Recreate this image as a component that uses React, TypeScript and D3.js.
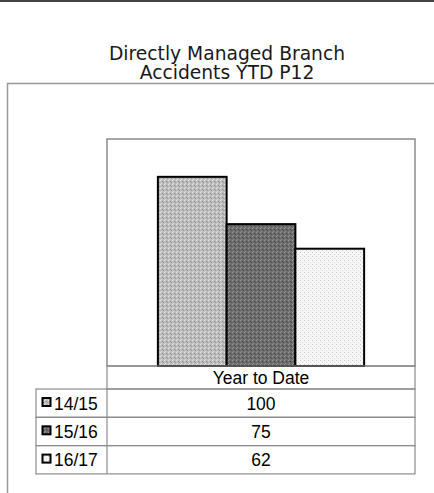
import { scaleBand, scaleLinear } from "d3";

// chart data
const categories = ["Year to Date"];
const seriesNames = ["14/15", "15/16", "16/17"];
const seriesValues = [100, 75, 62];
const yDomain = [0, 120];

const width = 434;
const height = 493;
// plot area, as in the original export
const plot = { left: 107, right: 415, top: 139, bottom: 366 };
const rowH = 28.3;
const headerH = 23;
const legendLeft = 36;

const fills = ["url(#pat0)", "url(#pat1)", "url(#pat2)"];

const tableFont = "'Liberation Sans', Arial, sans-serif";

export default function App() {
  const xScale = scaleBand<string>()
    .domain(categories)
    .range([plot.left, plot.right]);

  const inner = scaleBand<string>()
    .domain(seriesNames)
    .range([0, xScale.bandwidth()])
    .paddingInner(0)
    .paddingOuter(0.74);

  const yScale = scaleLinear().domain(yDomain).range([plot.bottom, plot.top]);

  const tableTop = plot.bottom;
  const rowsTop = tableTop + headerH;
  const tableBottom = rowsTop + rowH * seriesNames.length;
  const center = (plot.left + plot.right) / 2;

  return (
    <svg
      width={width}
      height={height}
      style={{ position: "absolute", left: 0, top: 0, background: "#fff" }}
    >
      <defs>
        <pattern id="pat0" width="4" height="4" patternUnits="userSpaceOnUse">
          <rect width="4" height="4" fill="#bdbdbd" />
          <rect x="0" y="0" width="1" height="1" fill="#e6e6e6" />
          <rect x="2" y="1" width="1" height="1" fill="#8a8a8a" />
          <rect x="1" y="3" width="1" height="1" fill="#dcdcdc" />
          <rect x="3" y="2" width="1" height="1" fill="#999" />
        </pattern>
        <pattern id="pat1" width="4" height="4" patternUnits="userSpaceOnUse">
          <rect width="4" height="4" fill="#6e6e6e" />
          <rect x="0" y="0" width="1" height="1" fill="#9a9a9a" />
          <rect x="2" y="1" width="1" height="1" fill="#444" />
          <rect x="1" y="3" width="1" height="1" fill="#8c8c8c" />
          <rect x="3" y="2" width="1" height="1" fill="#555" />
        </pattern>
        <pattern id="pat2" width="4" height="4" patternUnits="userSpaceOnUse">
          <rect width="4" height="4" fill="#f6f6f6" />
          <rect x="0" y="0" width="1" height="1" fill="#c8c8c8" />
          <rect x="2" y="2" width="1" height="1" fill="#d4d4d4" />
        </pattern>
      </defs>

      {/* top rule and outer frame */}
      <line x1={0} x2={width} y1={1} y2={1} stroke="#444" strokeWidth={2} />
      <path d={`M7.5,${height} V83.5 H${width}`} fill="none" stroke="#999" strokeWidth={1.5} />

      {/* title */}
      <text
        x={227}
        y={59.5}
        textAnchor="middle"
        fontFamily="'DejaVu Sans', Verdana, sans-serif"
        fontSize={18.7}
        fill="#1a1a1a"
      >
        <tspan x={227}>Directly Managed Branch</tspan>
        <tspan x={227} dy={19.2}>Accidents YTD P12</tspan>
      </text>

      {/* plot area */}
      <rect
        x={plot.left}
        y={plot.top}
        width={plot.right - plot.left}
        height={plot.bottom - plot.top}
        fill="#fff"
        stroke="#8c8c8c"
        strokeWidth={1.5}
      />

      {/* bars */}
      {categories.map((c) =>
        seriesNames.map((s, i) => (
          <rect
            key={c + s}
            x={(xScale(c) as number) + (inner(s) as number)}
            y={yScale(seriesValues[i])}
            width={inner.bandwidth()}
            height={plot.bottom - yScale(seriesValues[i])}
            fill={fills[i]}
            stroke="#000"
            strokeWidth={2}
          />
        ))
      )}

      {/* data table */}
      <g fontFamily={tableFont} fontSize={17.5} fill="#000" stroke="none">
        {/* header */}
        <rect
          x={plot.left}
          y={tableTop}
          width={plot.right - plot.left}
          height={headerH}
          fill="none"
          stroke="#8c8c8c"
          strokeWidth={1.2}
        />
        {categories.map((c) => (
          <text key={c} x={(xScale(c) as number) + xScale.bandwidth() / 2} y={tableTop + 17.5} textAnchor="middle">
            {c}
          </text>
        ))}
        {seriesNames.map((s, i) => {
          const y0 = rowsTop + i * rowH;
          return (
            <g key={s}>
              <rect
                x={legendLeft}
                y={y0}
                width={plot.right - legendLeft}
                height={rowH}
                fill="none"
                stroke="#8c8c8c"
                strokeWidth={1.2}
              />
              <rect x={42.5} y={y0 + 9} width={8} height={8} fill={fills[i]} stroke="#000" strokeWidth={2} />
              <text x={54} y={y0 + 20.5}>
                {s}
              </text>
              <text x={center} y={y0 + 20.5} textAnchor="middle">
                {seriesValues[i]}
              </text>
            </g>
          );
        })}
        <line x1={plot.left} x2={plot.left} y1={rowsTop} y2={tableBottom} stroke="#8c8c8c" strokeWidth={1.2} />
      </g>
    </svg>
  );
}
